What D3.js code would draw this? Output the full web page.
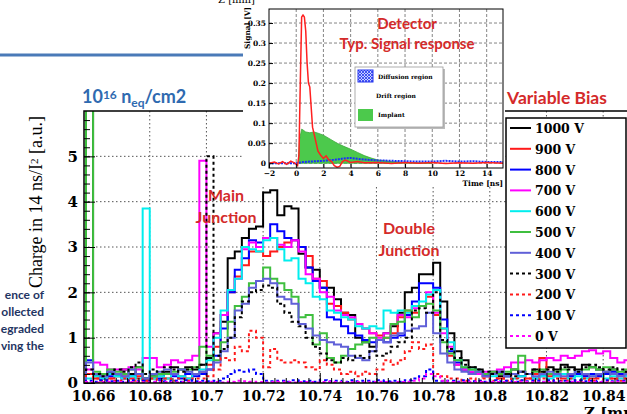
<!DOCTYPE html>
<html>
<head>
<meta charset="utf-8">
<script src="https://cdn.jsdelivr.net/npm/d3@7"></script>
<style>
  body { margin: 0; background: #fff; }
  svg { display: block; }
</style>
</head>
<body>
<div id="chart"></div>
<script>
// histogram bins (mm), 0.0025 wide
var binStart = 10.6575, binWidth = 0.0025;
var xTicks = [10.66, 10.68, 10.7, 10.72, 10.74, 10.76, 10.78, 10.8, 10.82, 10.84];
var yTicks = [0, 1, 2, 3, 4, 5];
var biasLabels = ['1000 V', '900 V', '800 V', '700 V', '600 V', '500 V', '400 V', '300 V', '200 V', '100 V', '0 V'];

var v1000 = [6.5,0.15,0.2,0.25,0.15,0.3,0.2,0.35,0.1,0.15, 0.2,0.25,0.35,0.3,0.35,0.3,0.4,0.55,1.1,1.35,
  2.75,2.9,3.2,3.4,3.45,4.2,4.25,3.7,3.9,3.85, 2.85,2.55,2.5,2.1,2.1,1.85,1.55,1.5,1.0,0.9,
  0.8,0.95,1.1,1.25,1.55,2.0,2.1,2.4,2.4,2.65, 1.8,1.1,0.7,0.5,0.35,0.3,0.2,0.25,0.15,0.2,
  0.3,0.25,0.2,0.3,0.25,0.35,0.3,0.4,0.35,0.3, 0.4,0.35,0.3,0.25,0.3,0.2,0.25];
var v900 = [0.2,0.1,0.15,0.1,0.2,0.15,0.1,0.15,0.05,0.1, 0.15,0.1,0.2,0.15,0.1,0.2,0.25,0.4,0.8,1.5,
  2.0,2.35,2.6,2.9,2.9,2.8,2.9,3.0,3.1,3.15, 3.0,2.8,2.3,2.25,1.75,1.7,1.55,1.4,1.3,1.2,
  1.1,1.05,1.0,1.1,1.45,1.6,1.55,1.7,1.9,1.5, 1.2,0.6,0.4,0.3,0.25,0.2,0.15,0.2,0.1,0.15,
  0.2,0.15,0.1,0.2,0.55,0.15,0.2,0.1,0.15,0.2, 0.15,0.1,0.15,0.2,0.1,0.15,0.1];
var v800 = [0.5,0.2,0.1,0.15,0.2,0.1,0.15,0.2,0.1,0.15, 0.1,0.2,0.15,0.1,0.2,0.15,0.2,0.3,0.6,1.2,
  2.0,2.5,2.75,3.15,3.1,3.2,3.5,3.35,3.2,3.15, 3.0,2.55,2.25,2.1,1.45,1.4,1.25,1.1,1.05,0.95,
  0.9,0.95,0.9,1.0,1.05,1.5,1.8,2.2,2.2,2.1, 1.4,0.7,0.45,0.3,0.25,0.2,0.15,0.2,0.25,0.15,
  0.2,0.15,0.2,0.1,0.15,0.2,0.15,0.2,0.15,0.2, 0.15,0.2,0.15,0.2,0.25,0.2,0.15];
var v700 = [0.3,0.45,0.4,0.3,0.3,0.3,0.35,0.3,0.55,0.55, 0.35,0.4,0.5,0.45,0.5,0.6,4.9,0.8,1.1,1.5,
  2.05,2.3,2.95,3.1,3.0,3.2,3.2,3.05,3.0,3.15, 2.9,2.4,2.3,2.0,1.9,1.6,1.5,1.45,1.3,1.2,
  1.1,1.0,1.1,1.3,1.5,1.45,1.65,1.7,2.0,1.55, 1.1,0.8,0.4,0.3,0.25,0.2,0.25,0.25,0.3,0.35,
  0.45,0.45,0.5,0.45,0.5,0.55,0.5,0.6,0.55,0.6, 0.7,0.72,0.65,0.7,0.55,0.45,0.5];
var v600 = [0.1,0.15,0.1,0.2,0.15,0.1,0.15,0.1,3.85,0.1, 0.15,0.1,0.2,0.15,0.1,0.2,0.3,0.5,1.0,1.6,
  2.05,2.3,3.0,2.95,2.9,3.15,3.2,2.95,2.7,2.75, 2.3,2.2,1.9,1.85,1.6,1.55,1.45,1.4,1.25,1.2,
  1.25,1.2,1.6,1.55,1.6,1.55,1.7,1.8,1.95,2.05, 1.2,0.9,0.5,0.35,0.3,0.25,0.2,0.15,0.2,0.15,
  0.1,0.15,0.2,0.1,0.15,0.1,0.15,0.2,0.1,0.15, 0.1,0.15,0.2,0.1,0.15,0.1,0.15];
var v500 = [6.5,0.25,0.2,0.3,0.25,0.2,0.3,0.35,0.1,0.15, 0.2,0.2,0.25,0.3,0.3,0.35,0.8,0.6,0.5,0.9,
  1.35,1.7,1.9,2.2,2.25,2.55,2.3,2.2,2.05,1.9, 1.45,1.5,0.85,1.1,0.55,0.45,0.6,0.75,0.85,0.9,
  1.0,0.95,1.0,1.3,1.35,1.6,1.45,1.7,1.75,1.6, 0.9,0.65,0.5,0.35,0.3,0.25,0.2,0.25,0.2,0.25,
  0.3,0.6,0.2,0.25,0.3,0.2,0.25,0.3,0.2,0.25, 0.3,0.35,0.3,0.35,0.3,0.25,0.3];
var v400 = [0.45,0.2,0.15,0.25,0.2,0.15,0.3,0.2,0.1,0.2, 0.25,0.3,0.2,0.3,0.25,0.2,0.25,0.3,0.45,0.7,
  1.0,1.6,1.75,2.1,2.25,2.3,2.2,1.9,1.85,1.75, 1.3,1.2,1.05,0.95,0.9,0.85,0.8,0.6,0.55,0.5,
  0.7,0.95,0.9,1.05,1.1,1.15,1.2,1.25,1.55,1.1, 0.65,0.45,0.3,0.25,0.2,0.25,0.15,0.2,0.25,0.15,
  0.2,0.25,0.2,0.15,0.2,0.25,0.2,0.15,0.2,0.25, 0.2,0.15,0.2,0.25,0.2,0.15,0.2];
var v300 = [0.3,0.2,0.15,0.2,0.3,0.25,0.35,0.45,0.2,0.3, 0.25,0.35,0.3,0.25,0.3,0.35,0.4,5.0,0.6,0.75,
  1.0,1.45,1.8,2.0,2.05,2.15,2.1,1.75,1.55,1.35, 1.25,1.0,0.8,0.65,0.5,0.45,0.55,0.5,0.6,0.55,
  0.7,0.6,0.65,0.8,0.9,1.0,1.6,1.65,1.55,2.0, 0.95,0.75,0.55,0.4,0.35,0.3,0.25,0.2,0.25,0.2,
  0.15,0.25,0.2,0.3,0.25,0.3,0.25,0.35,0.3,0.25, 0.35,0.4,0.35,0.3,0.35,0.3,0.25];
var v200 = [0.2,0.1,0.05,0.1,0.05,0.1,0.05,0.1,0.05,0.1, 0.05,0.1,0.05,0.1,0.05,0.1,0.1,0.15,0.3,0.55,
  0.5,0.8,0.7,1.15,1.0,0.35,0.75,0.5,0.45,0.5, 0.45,0.35,0.3,0.5,0.4,0.3,0.2,0.25,0.15,0.25,
  0.2,0.3,0.5,0.4,0.5,0.7,0.9,0.75,0.85,0.2, 0.15,0.1,0.1,0.05,0.1,0.05,0.1,0.05,0.1,0.05,
  0.1,0.05,0.1,0.05,0.1,0.05,0.1,0.05,0.1,0.05, 0.1,0.05,0.1,0.05,0.1,0.05,0.1];
var v100 = [0.05,0.03,0.06,0.04,0.05,0.03,0.06,0.04,0.05,0.03, 0.06,0.04,0.05,0.03,0.06,0.04,0.05,0.04,0.05,0.1,
  0.2,0.28,0.25,0.3,0.2,0.05,0.04,0.05,0.03,0.06, 0.04,0.05,0.03,0.06,0.04,0.05,0.03,0.06,0.04,0.05,
  0.03,0.06,0.04,0.05,0.03,0.06,0.1,0.15,0.3,0.05, 0.04,0.05,0.03,0.06,0.04,0.05,0.03,0.06,0.04,0.05,
  0.03,0.06,0.04,0.05,0.03,0.06,0.04,0.05,0.03,0.06, 0.04,0.05,0.03,0.06,0.04,0.05,0.03];
var v0 = [0.02,0.01,0.02,0.03,0.02,0.01,0.02,0.02,0.01,0.02, 0.03,0.02,0.01,0.02,0.02,0.01,0.02,0.03,0.02,0.01,
  0.03,0.05,0.04,0.03,0.02,0.01,0.02,0.03,0.02,0.01, 0.02,0.02,0.01,0.02,0.03,0.02,0.01,0.02,0.02,0.01,
  0.02,0.03,0.02,0.01,0.02,0.03,0.05,0.1,0.2,0.15, 0.05,0.02,0.01,0.02,0.03,0.02,0.01,0.02,0.02,0.01,
  0.02,0.03,0.02,0.01,0.02,0.02,0.01,0.02,0.03,0.02, 0.01,0.02,0.02,0.01,0.02,0.03,0.02];

// inset: typical signal response
var insetXTicks = [-2, 0, 2, 4, 6, 8, 10, 12, 14];
var insetYTicks = [0, 0.05, 0.1, 0.15, 0.2, 0.25, 0.3, 0.35];
var sigT = [-2,-1.6,-1.3,-1,-0.7,-0.4,-0.1,0.1,0.2,0.3,0.4,0.5,0.6,0.7,0.8,0.9,1.0,1.1,1.2,1.4,1.6,1.8,2.0,2.2,2.4,2.6,2.8,3.0,3.2,3.4,3.6,3.8,4.0,4.5,5,6,7,8,9,10,11,12,13,14,15.2];
var sigV = [0,0.003,-0.002,0.004,-0.003,0.005,0,-0.006,0.02,0.2,0.365,0.37,0.365,0.33,0.25,0.2,0.19,0.14,0.09,0.06,0.03,0.02,0.012,0.018,0.008,0.004,-0.006,-0.01,-0.008,0.004,0.008,0.005,0.002,0.004,0.001,0.002,-0.001,0.002,0,0.002,-0.001,0.001,0,0.002,0];
var implT = [0.15,0.25,0.4,0.5,0.7,1.0,1.3,1.6,2.0,2.5,3.0,3.5,4.0,4.5,5,5.5,6,7,8,9,10];
var implV = [0,0.06,0.085,0.083,0.078,0.076,0.078,0.075,0.07,0.06,0.05,0.042,0.035,0.027,0.019,0.013,0.008,0.004,0.002,0.001,0];
var diffT = [-2,0,0.5,1,2,3,3.5,4,4.5,5,6,7,8,9,10,11,12,13,14,15.2];
var diffV = [0,0,0.003,0.004,0.006,0.009,0.012,0.013,0.011,0.009,0.007,0.006,0.005,0.004,0.004,0.006,0.004,0.005,0.003,0.003];
var insetLegend = ['Diffusion region', 'Drift region', 'Implant'];

var series = [v1000, v900, v800, v700, v600, v500, v400, v300, v200, v100, v0];
var seriesStyle = [
  { color: '#000000', dash: null },
  { color: '#ff1a1a', dash: null },
  { color: '#0000ff', dash: null },
  { color: '#ff00ff', dash: null },
  { color: '#00eeee', dash: null },
  { color: '#3fbf3f', dash: null },
  { color: '#6060d8', dash: null },
  { color: '#000000', dash: '3,3' },
  { color: '#ff1a1a', dash: '3,3' },
  { color: '#0000ff', dash: '3,3' },
  { color: '#ff00ff', dash: '3,3' }
];

var W = 627, H = 414;
var serif = '"DejaVu Serif", serif';
var sans = 'Lato, "Open Sans", sans-serif';
var red = '#d42a2a';

var svg = d3.select('#chart').append('svg')
  .attr('width', W)
  .attr('height', H)
  .attr('viewBox', '0 0 ' + W + ' ' + H);

// slide leftovers
svg.append('line')
  .attr('x1', 0).attr('x2', 243).attr('y1', 55).attr('y2', 55)
  .attr('stroke', '#4a7ab8').attr('stroke-width', 3);

var para = ['ence of', 'ollected', 'egraded', 'ving the'];
svg.selectAll('text.para').data(para).enter().append('text')
  .attr('class', 'para')
  .attr('x', 44)
  .attr('y', function(d, i) { return 299 + i * 17; })
  .attr('text-anchor', 'end')
  .attr('font-family', sans).attr('font-weight', 'bold').attr('font-size', 12)
  .attr('fill', '#1f3563')
  .text(function(d) { return d; });

// ---------- main histogram ----------
var x = d3.scaleLinear().domain([10.6568, 10.853]).range([84, 640]);
var y = d3.scaleLinear().domain([0, 6]).range([383, 111]);

svg.append('clipPath').attr('id', 'clip')
  .append('rect').attr('x', 84).attr('y', 111).attr('width', 560).attr('height', 272);

// grid
var grid = svg.append('g').attr('stroke', '#555').attr('stroke-width', 1).attr('stroke-dasharray', '1.5,2.5');
grid.selectAll('line.gx').data(xTicks.slice(1)).enter().append('line')
  .attr('x1', function(d) { return x(d); }).attr('x2', function(d) { return x(d); })
  .attr('y1', 111).attr('y2', 383);
grid.selectAll('line.gy').data(yTicks.slice(1)).enter().append('line')
  .attr('x1', 84).attr('x2', 640)
  .attr('y1', function(d) { return y(d); }).attr('y2', function(d) { return y(d); });

// histograms
var line = d3.line()
  .x(function(d) { return x(d[0]); })
  .y(function(d) { return y(d[1]); })
  .curve(d3.curveStepAfter);

function histPoints(vals) {
  var pts = [[binStart, 0]];
  vals.forEach(function(v, i) { pts.push([binStart + i * binWidth, v]); });
  pts.push([binStart + vals.length * binWidth, vals[vals.length - 1]]);
  pts.push([binStart + vals.length * binWidth, 0]);
  return pts;
}

var hg = svg.append('g').attr('clip-path', 'url(#clip)');
hg.selectAll('path').data(series).enter().append('path')
  .attr('d', function(d) { return line(histPoints(d)); })
  .attr('fill', 'none')
  .attr('stroke', function(d, i) { return seriesStyle[i].color; })
  .attr('stroke-width', 2)
  .attr('stroke-dasharray', function(d, i) { return seriesStyle[i].dash; });

// axes
var xAxis = svg.append('g').attr('transform', 'translate(0,383)')
  .call(d3.axisBottom(x).tickValues(xTicks).tickSize(-10).tickPadding(5).tickFormat(d3.format('')));
svg.append('g').attr('transform', 'translate(0,383)')
  .call(d3.axisBottom(x).tickValues(d3.range(10.66, 10.853, 0.004)).tickSize(-5).tickFormat(''))
  .select('.domain').remove();
var yAxis = svg.append('g').attr('transform', 'translate(84,0)')
  .call(d3.axisLeft(y).tickValues(yTicks).tickSize(-11).tickPadding(6).tickFormat(d3.format('d')));
svg.append('g').attr('transform', 'translate(84,0)')
  .call(d3.axisLeft(y).tickValues(d3.range(0, 6, 0.2)).tickSize(-6).tickFormat(''))
  .select('.domain').remove();

[xAxis, yAxis].forEach(function(a) {
  a.select('.domain').remove();
  a.selectAll('text')
    .attr('font-family', serif).attr('font-weight', 'bold').attr('font-size', 14).attr('fill', '#000');
});
xAxis.selectAll('text').attr('dy', '0.9em');
yAxis.selectAll('text').attr('font-size', 15);
svg.selectAll('.tick line').attr('stroke', '#000');

svg.append('rect')
  .attr('x', 84).attr('y', 111).attr('width', 556).attr('height', 272)
  .attr('fill', 'none').attr('stroke', '#000').attr('stroke-width', 1.5);

// axis titles
var yt = svg.append('text')
  .attr('transform', 'translate(42,202) rotate(-90)')
  .attr('text-anchor', 'middle')
  .attr('font-family', '"Liberation Serif", serif').attr('font-size', 18).attr('fill', '#000');
yt.append('tspan').text('Charge in 14 ns/I');
yt.append('tspan').attr('baseline-shift', '40%').attr('font-size', 11).text('2');
yt.append('tspan').text(' [a.u.]');

svg.append('text')
  .attr('x', 584).attr('y', 418)
  .attr('font-family', serif).attr('font-weight', 'bold').attr('font-size', 15)
  .text('Z [mm]');

// fluence label
var fl = svg.append('text')
  .attr('x', 82).attr('y', 103)
  .attr('font-family', sans).attr('font-weight', 'bold').attr('font-size', 18).attr('fill', '#2f6ab0');
fl.append('tspan').text('10');
fl.append('tspan').attr('baseline-shift', '35%').attr('font-size', 12).text('16');
fl.append('tspan').text(' n');
fl.append('tspan').attr('baseline-shift', '-30%').attr('font-size', 12).text('eq');
fl.append('tspan').text('/cm2');

// annotations
function redText(lines, cx, y0, dy, size) {
  svg.append('g').selectAll('text').data(lines).enter().append('text')
    .attr('x', cx).attr('y', function(d, i) { return y0 + i * dy; })
    .attr('text-anchor', 'middle')
    .attr('font-family', sans).attr('font-weight', 'bold').attr('font-size', size)
    .attr('fill', red)
    .text(function(d) { return d; });
}
redText(['Main', 'Junction'], 226, 201, 22, 16);
redText(['Double', 'Junction'], 409, 234, 22, 16);
redText(['Variable Bias'], 557, 104, 0, 17.5);

// main legend
var lg = svg.append('g');
lg.append('rect')
  .attr('x', 506).attr('y', 118).attr('width', 120).attr('height', 230)
  .attr('fill', '#fff').attr('stroke', '#000').attr('stroke-width', 1.5);
var items = lg.selectAll('g.item').data(biasLabels).enter().append('g')
  .attr('transform', function(d, i) { return 'translate(0,' + (128 + i * 20.8) + ')'; });
items.append('line')
  .attr('x1', 510).attr('x2', 531)
  .attr('stroke', function(d, i) { return seriesStyle[i].color; })
  .attr('stroke-width', 2)
  .attr('stroke-dasharray', function(d, i) { return seriesStyle[i].dash; });
items.append('text')
  .attr('x', 535).attr('y', 5)
  .attr('font-family', serif).attr('font-weight', 'bold').attr('font-size', 12.5)
  .text(function(d) { return d; });

// ---------- inset ----------
var inset = svg.append('g');
inset.append('rect').attr('x', 243).attr('y', 0).attr('width', 262).attr('height', 187).attr('fill', '#fff');
inset.append('text')
  .attr('x', 218).attr('y', 3)
  .attr('font-family', serif).attr('font-size', 10)
  .text('Z [mm]');

var ix = d3.scaleLinear().domain([-2, 15.2]).range([269, 503]);
var iy = d3.scaleLinear().domain([-0.012, 0.385]).range([168, 9]);

var ig = inset.append('g').attr('stroke', '#666').attr('stroke-width', 0.8).attr('stroke-dasharray', '3,2');
ig.selectAll('line.gx').data(insetXTicks.slice(1)).enter().append('line')
  .attr('x1', function(d) { return ix(d); }).attr('x2', function(d) { return ix(d); })
  .attr('y1', 9).attr('y2', 168);
ig.selectAll('line.gy').data(insetYTicks).enter().append('line')
  .attr('x1', 269).attr('x2', 503)
  .attr('y1', function(d) { return iy(d); }).attr('y2', function(d) { return iy(d); });

var iline = d3.line()
  .x(function(d) { return ix(d[0]); })
  .y(function(d) { return iy(d[1]); });
var iarea = d3.area()
  .x(function(d) { return ix(d[0]); })
  .y0(iy(0))
  .y1(function(d) { return iy(d[1]); });

inset.append('path')
  .attr('d', iarea(d3.zip(implT, implV)))
  .attr('fill', '#4cc94c').attr('stroke', '#3aa83a').attr('stroke-width', 0.8);
inset.append('path')
  .attr('d', iline(d3.zip(diffT, diffV)))
  .attr('fill', 'none').attr('stroke', '#1a2cff').attr('stroke-width', 2).attr('stroke-dasharray', '2,1');
inset.append('path')
  .attr('d', iline(d3.zip(sigT, sigV)))
  .attr('fill', 'none').attr('stroke', '#ff2020').attr('stroke-width', 1.5);

var ixAxis = inset.append('g').attr('transform', 'translate(0,168)')
  .call(d3.axisBottom(ix).tickValues(insetXTicks).tickSize(-4).tickPadding(3));
var iyAxis = inset.append('g').attr('transform', 'translate(269,0)')
  .call(d3.axisLeft(iy).tickValues(insetYTicks).tickSize(-4).tickPadding(3).tickFormat(d3.format('')));
[ixAxis, iyAxis].forEach(function(a) {
  a.select('.domain').remove();
  a.selectAll('text').attr('font-family', serif).attr('font-weight', 'bold').attr('font-size', 7.5).attr('fill', '#000');
});
inset.append('rect')
  .attr('x', 269).attr('y', 9).attr('width', 234).attr('height', 159)
  .attr('fill', 'none').attr('stroke', '#000').attr('stroke-width', 1);
inset.append('text')
  .attr('transform', 'translate(250,28) rotate(-90)')
  .attr('text-anchor', 'middle')
  .attr('font-family', serif).attr('font-weight', 'bold').attr('font-size', 7.5)
  .text('Signal [V]');
inset.append('text')
  .attr('x', 503).attr('y', 186).attr('text-anchor', 'end')
  .attr('font-family', serif).attr('font-weight', 'bold').attr('font-size', 7.5)
  .text('Time [ns]');

// inset legend
var defs = svg.append('defs');
var pat = defs.append('pattern').attr('id', 'hatch')
  .attr('width', 3).attr('height', 3).attr('patternUnits', 'userSpaceOnUse');
pat.append('rect').attr('width', 3).attr('height', 3).attr('fill', '#c8d0ff');
pat.append('path').attr('d', 'M0,3 L3,0 M0,0 L3,3').attr('stroke', '#2233ee').attr('stroke-width', 0.8);

inset.append('rect').attr('x', 357).attr('y', 69).attr('width', 88).attr('height', 60).attr('fill', '#bbb');
inset.append('rect').attr('x', 355).attr('y', 67).attr('width', 88).attr('height', 60)
  .attr('fill', '#fff').attr('stroke', '#999').attr('stroke-width', 0.8);
inset.append('rect').attr('x', 358).attr('y', 70).attr('width', 15).attr('height', 12)
  .attr('fill', 'url(#hatch)').attr('stroke', '#2233ee').attr('stroke-width', 1);
inset.append('rect').attr('x', 358).attr('y', 109).attr('width', 15).attr('height', 12)
  .attr('fill', '#4cc94c');
inset.selectAll('text.ilg').data(insetLegend).enter().append('text')
  .attr('class', 'ilg')
  .attr('x', function(d, i) { return i === 1 ? 376 : 378; })
  .attr('y', function(d, i) { return 79 + i * 19; })
  .attr('font-family', serif).attr('font-weight', 'bold').attr('font-size', 6)
  .text(function(d) { return d; });

redText(['Detector', 'Typ. Signal response'], 407, 29, 20, 15);
</script>
</body>
</html>
